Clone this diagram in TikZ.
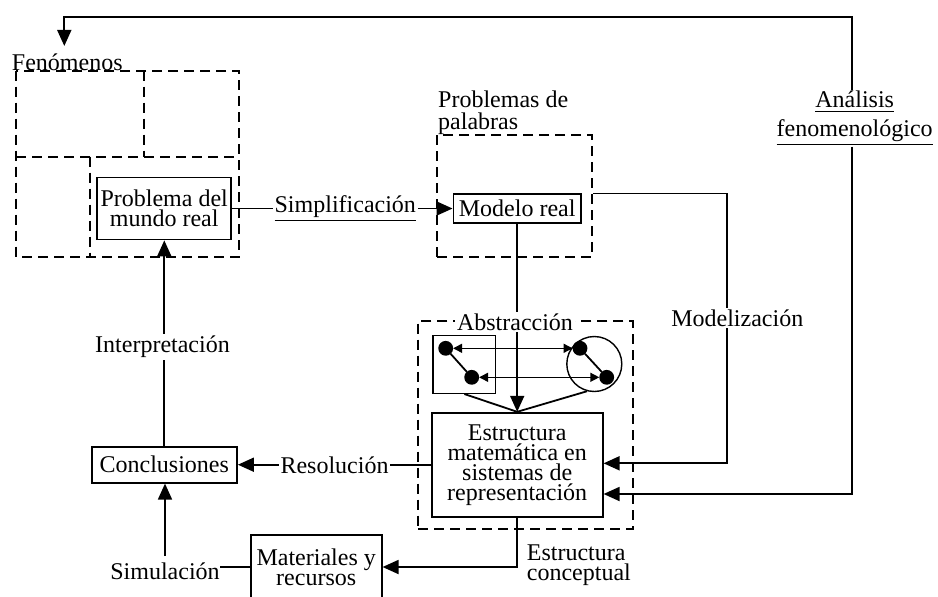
\documentclass[tikz,border=0pt]{standalone}
\usepackage{fontspec}
\setmainfont{Liberation Serif}
\usetikzlibrary{arrows.meta}

\begin{document}
\begin{tikzpicture}[x=0.5pt, y=-0.5pt, line width=0.9pt]
\tikzstyle{every node} = [font=\fontsize{12}{10}\selectfont]
\tikzstyle{box} = [draw, align=center, inner sep=1pt]
\tikzstyle{dashbox} = [draw, dash pattern=on 5pt off 3pt]
\tikzstyle{lbl} = [fill=white, inner sep=1pt, align=center]
\tikzstyle{arr} = [-{Triangle[length=8pt, width=7pt]}]
\tikzstyle{dblarr} = [{Triangle[length=4.5pt, width=4.5pt]}-{Triangle[length=4.5pt, width=4.5pt]}, line width=0.7pt]
\tikzstyle{blob} = [draw, shape=circle, fill, inner sep=0pt, minimum size=6.5pt]
\useasboundingbox (0,0) rectangle (938,596);

% Fenomenos
\draw [dashbox] (16,70.7) rectangle (239,256.7);
\draw [dashbox] (144,70.7) -- (144,156.7);
\draw [dashbox] (16,156.7) -- (239,156.7);
\draw [dashbox] (90,156.7) -- (90,256.7);
\node (fen) at (67.3,62) {Fenómenos};
\node [box, minimum width=67pt, minimum height=31pt] (prob) at (164.2,208.5) {Problema del\\mundo real};

% Problemas de palabras
\node [dashbox, minimum width=77.5pt, minimum height=60.85pt] (pal) at (514.8,195.85) {};
\node [anchor=north west, align=left, inner sep=0pt, font=\fontsize{12}{11}\selectfont] (paltxt) at (437.3,90) {Problemas de\\palabras};
\node [box, minimum width=63.8pt, minimum height=14.2pt] (modelo) at (517.2,208.5) {Modelo real};

% Estructura
\node [dashbox, minimum width=107.35pt, minimum height=104pt] (abs) at (525.35,425) {};
\node [box, minimum width=85.5pt, minimum height=52pt] (estr) at (517.2,464.7) {Estructura\\matemática en\\sistemas de\\representación};
\node [draw, minimum width=31.35pt, minimum height=28.8pt, line width=0.7pt] (sq) at (464.35,364.5) {};
\node [draw, shape=circle, minimum size=27.5pt, line width=0.7pt] (circ) at (594.3,364) {};
\node [blob] (d1) at (445.7,348.3) {};
\node [blob] (d2) at (471.7,377.3) {};
\node [blob] (d3) at (580,348.3) {};
\node [blob] (d4) at (606.7,377.3) {};
\draw (d1) -- (d2);
\draw (d3) -- (d4);
\draw [dblarr] (d1) -- (d3);
\draw [dblarr] (d2) -- (d4);
\draw (sq.south) -- (estr.north);
\draw (circ.255) -- (estr.north);

\node [box, minimum width=72.7pt, minimum height=18pt] (concl) at (164.3,464.7) {Conclusiones};
\node [box, minimum width=65.5pt, minimum height=32pt] (mater) at (316.2,567) {Materiales y\\recursos};

% Analisis fenomenologico
\node [align=center, inner sep=0pt, font=\fontsize{12}{14.3}\selectfont] (ana) at (854.7,118.5) {\underline{Análisis}\\\underline{fenomenológico}};
\coordinate (tr) at (852.3,16.7);
\coordinate (tl) at (64.3,16.7);
\coordinate (br) at (852.3,494);
\draw [arr] (tr |- ana.north) -- (tr) -- (tl) -- (tl |- fen.north);
\draw [arr] (tr |- ana.south) -- (br) -- (estr.east |- br);

% Modelizacion
\coordinate (mr) at (727.3,463.3);
\draw [arr] (pal.east |- modelo.north) -| (mr) -- (estr.east |- mr);
\node [lbl] (modlz) at (737.3,318) {Modelización};

\draw [arr] (prob) -- (modelo);
\node [lbl] (simp) at (345.3,209) {\underline{Simplificación}};
\draw [arr] (modelo) -- (estr);
\node [lbl] (abstr) at (515,322) {Abstracción};
\draw [arr] (concl.north) -- (concl.north |- prob.south);
\node [lbl] (interp) at (162.5,346.7) {Interpretación};
\draw [arr] (estr) -- (concl);
\node [lbl] (resol) at (334.5,465) {Resolución};

% Simulacion
\node [inner sep=0pt, outer xsep=0pt, outer ysep=3.5pt] (sim) at (165,571.7) {Simulación};
\draw (mater.west) -- (sim.east |- mater.west);
\draw [arr] (sim.north) -- (sim.north |- concl.south);
\draw [arr] (estr.south) |- (mater.east);
\node [anchor=west, align=left, inner sep=0pt] (econc) at (526,565) {Estructura\\conceptual};
\end{tikzpicture}
\end{document}
